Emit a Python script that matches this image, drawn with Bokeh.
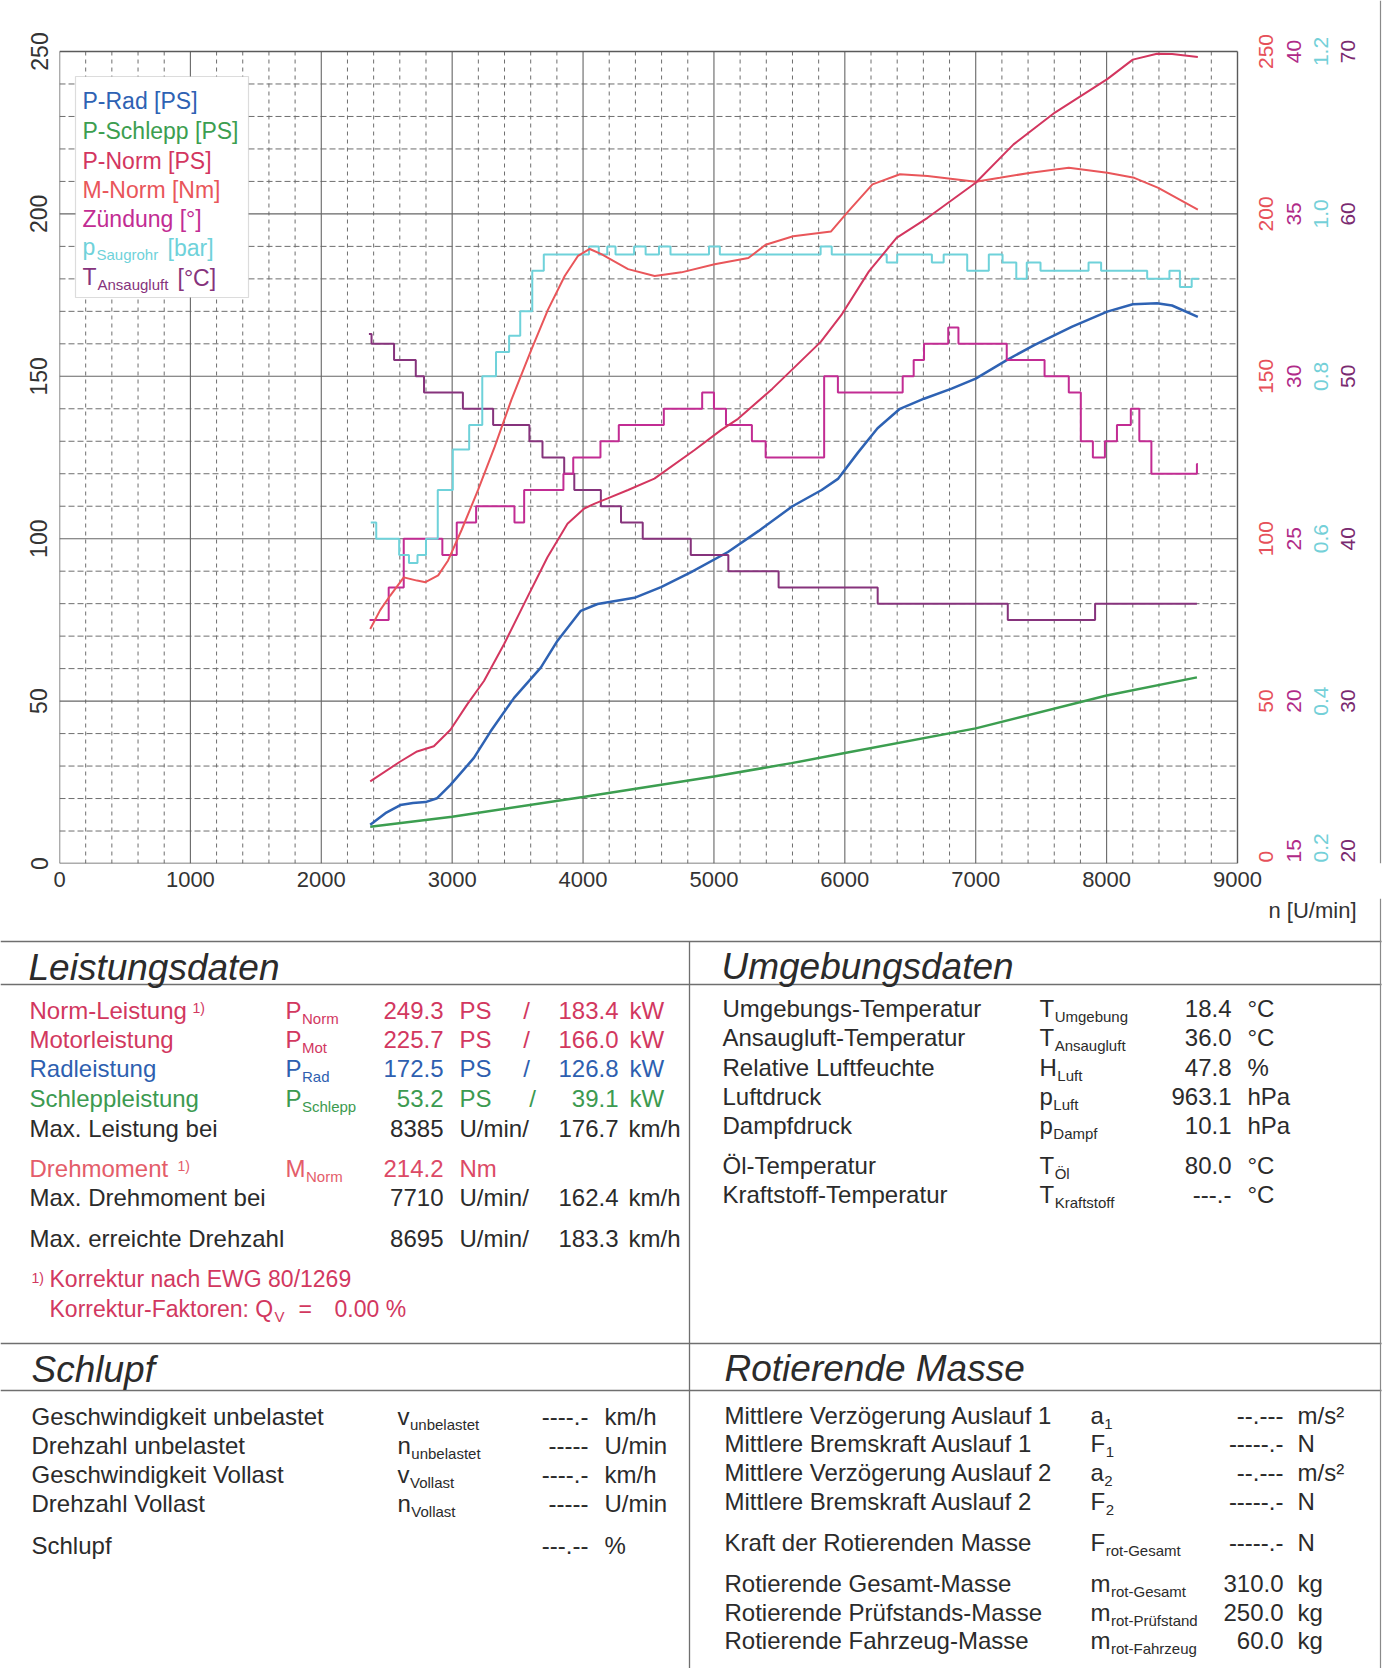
import math
from bokeh.plotting import figure
from bokeh.models import Range1d, FixedTicker, BoxAnnotation, Label
from bokeh.core.properties import value
from bokeh.layouts import column
from bokeh.embed import file_html
from bokeh.resources import INLINE

FONT = "Liberation Sans"
DARK = "#2b2b2b"

# ---------------- chart data ----------------
X_TICKS = [0, 1000, 2000, 3000, 4000, 5000, 6000, 7000, 8000, 9000]
PS_TICKS = [0, 50, 100, 150, 200, 250]
NM_TICKS = [0, 50, 100, 150, 200, 250]
ZUND_TICKS = [15, 20, 25, 30, 35, 40]
PSAUG_TICKS = [0.2, 0.4, 0.6, 0.8, 1.0, 1.2]
TANS_TICKS = [20, 30, 40, 50, 60, 70]

PRAD_RPM = [2374, 2490, 2604, 2700, 2796, 2885, 2987, 3166, 3294, 3473, 3677, 3805, 3983, 4111,
            4392, 4596, 4826, 5107, 5342, 5600, 5823, 5950, 6100, 6250, 6421, 6605, 6816, 7000,
            7237, 7447, 7737, 8005, 8200, 8385, 8500, 8697]
PRAD = [11.9, 15.5, 18.0, 18.6, 18.9, 20.1, 24.2, 32.5, 40.7, 51.0, 60.3, 68.6, 77.8, 79.9,
        81.8, 85.1, 89.7, 95.9, 102.4, 110.0, 115.0, 118.5, 126.5, 134.0, 140.0, 143.1, 146.2, 149.3,
        155.0, 159.6, 165.3, 169.9, 172.2, 172.5, 171.8, 168.3]

PSCH_RPM = [2374, 3000, 4000, 5000, 5593, 6000, 7000, 8000, 8690]
PSCH = [11.3, 14.4, 20.5, 26.8, 30.9, 34.0, 41.6, 51.7, 57.3]

PNORM_RPM = [2374, 2604, 2732, 2860, 2987, 3115, 3243, 3396, 3575, 3728, 3881, 4009, 4089, 4188,
             4344, 4545, 4852, 5056, 5184, 5447, 5816, 5974, 6184, 6395, 6632, 7000, 7289, 7605,
             8005, 8200, 8385, 8500, 8697]
PNORM = [25.3, 31.4, 34.5, 36.1, 41.2, 49.0, 56.2, 67.5, 82.0, 94.3, 104.6, 109.3, 110.8, 112.4,
         115.0, 118.5, 127.3, 133.5, 136.9, 146.2, 160.6, 168.9, 182.3, 192.6, 198.8, 209.6, 221.4, 231.2,
         241.5, 247.5, 249.3, 249.2, 248.3]

MNORM_RPM = [2374, 2450, 2527, 2630, 2732, 2796, 2893, 2969, 3071, 3198, 3326, 3453, 3606, 3733,
             3860, 3962, 4051, 4140, 4344, 4547, 4751, 5005, 5263, 5395, 5605, 5895, 6026, 6211,
             6421, 6632, 7000, 7184, 7421, 7711, 8005, 8211, 8395, 8697]
MNORM = [72.2, 78.0, 82.5, 88.1, 87.1, 86.6, 88.7, 93.3, 102.6, 115.0, 128.4, 142.8, 158.3, 170.6,
         180.9, 187.1, 189.2, 187.6, 183.0, 180.9, 182.0, 184.5, 186.4, 190.5, 193.1, 194.6, 200.8, 209.1,
         212.2, 211.7, 209.9, 211.1, 212.7, 214.2, 212.7, 211.1, 208.0, 201.3]

ZUND_RPM = [2369, 2515, 2630, 2925, 3035, 3183, 3476, 3550, 3850, 3925, 4133, 4273, 4617, 4910,
            5000, 5092, 5290, 5395, 5842, 5947, 6442, 6526, 6605, 6790, 6868, 7237, 7526, 7711,
            7803, 7895, 7987, 8079, 8185, 8250, 8342, 8690, 8697]
ZUND_DEG = [22.5, 23.5, 25.0, 24.5, 25.5, 26.0, 25.5, 26.5, 27.0, 27.5, 28.0, 28.5, 29.0, 29.5,
            29.0, 28.5, 28.0, 27.5, 30.0, 29.5, 30.0, 30.5, 31.0, 31.5, 31.0, 30.5, 30.0, 29.5,
            28.0, 27.5, 28.0, 28.5, 29.0, 28.0, 27.0, 27.3, 27.3]

PSAUG_RPM = [2378, 2420, 2595, 2670, 2735, 2800, 2890, 3005, 3130, 3230, 3335, 3435, 3520, 3612,
             3700, 4045, 4120, 4185, 4248, 4390, 4478, 4580, 4668, 4962, 5045, 5815, 5900, 6320,
             6400, 6665, 6755, 6935, 7100, 7205, 7310, 7390, 7495, 7862, 7958, 8310, 8480, 8560,
             8650, 8705]
PSAUG_BAR = [0.62, 0.60, 0.58, 0.57, 0.58, 0.60, 0.66, 0.71, 0.74, 0.80, 0.83, 0.85, 0.88, 0.93,
             0.95, 0.96, 0.95, 0.96, 0.95, 0.96, 0.95, 0.96, 0.95, 0.96, 0.95, 0.96, 0.95, 0.94,
             0.95, 0.94, 0.95, 0.93, 0.95, 0.94, 0.92, 0.94, 0.93, 0.94, 0.93, 0.92, 0.93, 0.91,
             0.92, 0.92]

TANS_RPM = [2364, 2384, 2556, 2722, 2785, 3082, 3313, 3590, 3690, 3856, 3933, 4136, 4290, 4456,
            4823, 5110, 5494, 6251, 7245, 7912, 8690]
TANS_C = [52.6, 52.0, 51.0, 50.0, 49.0, 48.0, 47.0, 46.0, 45.0, 44.0, 43.0, 42.0, 41.0, 40.0,
          39.0, 38.0, 37.0, 36.0, 35.0, 36.0, 36.0]

LEGEND = ["P-Rad [PS]", "P-Schlepp [PS]", "P-Norm [PS]", "M-Norm [Nm]", "Zündung [°]"]

C_RAD = "#2e62b3"
C_SCH = "#3c9e50"
C_PN = "#d3365f"
C_MN = "#e9565a"
C_ZD = "#c22c93"
C_PS = "#6fd2da"
C_TA = "#86337c"

# ---------------- chart figure ----------------
W = 1390
H1 = 898
FL, FR, FT, FB = 59, 1237, 51, 863   # plot-area edges in page pixels
XMAX, YMAX = 9000.0, 250.0


def px2x(px):
    return (px - FL) / (FR - FL) * XMAX


def px2y(py):
    return (FB - py) / (FB - FT) * YMAX


XEND = px2x(W)      # frame reaches the right edge of the canvas (room for the right scales)
YEND = px2y(0)      # frame reaches the top of the canvas
K = YEND / YMAX

p = figure(width=W, height=H1, x_range=Range1d(0, XEND), y_range=Range1d(0, YEND),
           output_backend="svg", toolbar_location=None,
           min_border_left=FL, min_border_right=0, min_border_top=0,
           min_border_bottom=H1 - FB,
           background_fill_color="white", border_fill_color="white")
p.frame_align = False
p.outline_line_color = None
p.xgrid.visible = False
p.ygrid.visible = False

p.xaxis.ticker = FixedTicker(ticks=X_TICKS)
p.yaxis.ticker = FixedTicker(ticks=PS_TICKS)
for ax in (p.xaxis[0], p.yaxis[0]):
    ax.axis_line_color = None
    ax.major_tick_line_color = None
    ax.minor_tick_line_color = None
    ax.major_label_text_font = FONT
    ax.major_label_text_color = "#333333"
p.xaxis.major_tick_out = 0
p.xaxis.major_label_text_font_size = "22px"
p.xaxis.major_label_standoff = 8
p.yaxis.major_label_text_font_size = "23px"
p.yaxis.major_label_orientation = "vertical"
p.yaxis.major_label_standoff = 6

p.extra_y_ranges = {"nm": Range1d(0, 250 * K), "zd": Range1d(15, 15 + 25 * K),
                    "ps": Range1d(0.2, 0.2 + 1.0 * K), "ta": Range1d(20, 20 + 50 * K)}

# grid drawn only over the plot area
minor_x = [v for v in range(200, 9000, 200) if v % 1000]
major_x = [v for v in X_TICKS if 0 < v < 9000]
minor_y = [v for v in range(10, 250, 10) if v % 50]
major_y = [v for v in PS_TICKS if 0 < v < 250]
p.segment(x0=minor_x, y0=[0] * len(minor_x), x1=minor_x, y1=[YMAX] * len(minor_x),
          line_color="#6e6e6e", line_width=1, line_dash="4 4")
p.segment(x0=[0] * len(minor_y), y0=minor_y, x1=[XMAX] * len(minor_y), y1=minor_y,
          line_color="#6e6e6e", line_width=1, line_dash="6 3")
p.segment(x0=major_x, y0=[0] * len(major_x), x1=major_x, y1=[YMAX] * len(major_x),
          line_color="#666666", line_width=1.1)
p.segment(x0=[0] * len(major_y), y0=major_y, x1=[XMAX] * len(major_y), y1=major_y,
          line_color="#666666", line_width=1.1)
p.segment(x0=[0, 0, 0, XMAX], y0=[0, YMAX, 0, 0], x1=[XMAX, XMAX, 0, XMAX], y1=[0, YMAX, YMAX, YMAX],
          line_color="#5a5a5a", line_width=1.4)
# page border line at right
p.segment(x0=[px2x(1380)], y0=[0], x1=[px2x(1380)], y1=[YEND], line_color="#8a8a8a", line_width=1.2)

# curves
p.line(PSCH_RPM, PSCH, line_color=C_SCH, line_width=2.5)
p.line(PRAD_RPM, PRAD, line_color=C_RAD, line_width=2.5)
p.step(TANS_RPM, TANS_C, mode="after", y_range_name="ta", line_color=C_TA, line_width=2)
p.step(ZUND_RPM, ZUND_DEG, mode="after", y_range_name="zd", line_color=C_ZD, line_width=2)
p.step(PSAUG_RPM, PSAUG_BAR, mode="after", y_range_name="ps", line_color=C_PS, line_width=2)
p.line(MNORM_RPM, MNORM, y_range_name="nm", line_color=C_MN, line_width=2)
p.line(PNORM_RPM, PNORM, line_color=C_PN, line_width=2)

# right-hand scales (rotated labels, reading upwards)
RFS = 21
right_specs = [(NM_TICKS, 0, 250, "%d", "#e6505a", 1265),
               (ZUND_TICKS, 15, 25, "%d", "#b02a88", 1293),
               (PSAUG_TICKS, 0.2, 1.0, "%.1f", "#74d0d8", 1320),
               (TANS_TICKS, 20, 50, "%d", "#7a2a70", 1347)]
for ticks, base, span, fmt, col, xpx in right_specs:
    labs = [fmt % v for v in ticks]
    ys = []
    for v, lab in zip(ticks, labs):
        ypx = FB - (v - base) / span * (FB - FT)
        half = sum(0.278 if ch == "." else 0.556 for ch in lab) * RFS / 2
        ys.append(px2y(min(ypx, FB - 1 - half)))
    p.text(x=[px2x(xpx)] * len(ticks), y=ys, text=labs, angle=math.pi / 2,
           text_align="center", text_baseline="middle", text_font=value(FONT),
           text_font_size=f"{RFS}px", text_color=col)

# legend (text only, as in the reference)
p.add_layout(BoxAnnotation(left=px2x(75), right=px2x(248), top=px2y(76), bottom=px2y(297),
                           fill_color="white", fill_alpha=1.0, line_color="#8c8c8c", line_width=1.2))
leg_cols = [C_RAD, C_SCH, C_PN, C_MN, C_ZD]
leg_y = [100, 130, 160, 189, 218]
for txt, col, yy in zip(LEGEND, leg_cols, leg_y):
    p.add_layout(Label(x=px2x(82), y=px2y(yy), text=txt, text_font=FONT, text_font_size="23px",
                       text_color=col, text_baseline="middle"))
p.add_layout(Label(x=px2x(82), y=px2y(246), text="p", text_font=FONT, text_font_size="23px",
                   text_color=C_PS, text_baseline="middle"))
p.add_layout(Label(x=px2x(96), y=px2y(254), text="Saugrohr", text_font=FONT, text_font_size="15px",
                   text_color=C_PS, text_baseline="middle"))
p.add_layout(Label(x=px2x(167), y=px2y(247), text="[bar]", text_font=FONT, text_font_size="23px",
                   text_color=C_PS, text_baseline="middle"))
p.add_layout(Label(x=px2x(82), y=px2y(276), text="T", text_font=FONT, text_font_size="23px",
                   text_color=C_TA, text_baseline="middle"))
p.add_layout(Label(x=px2x(97), y=px2y(284), text="Ansaugluft", text_font=FONT, text_font_size="15px",
                   text_color=C_TA, text_baseline="middle"))
p.add_layout(Label(x=px2x(177), y=px2y(277), text="[°C]", text_font=FONT, text_font_size="23px",
                   text_color=C_TA, text_baseline="middle"))

# ---------------- tables figure ----------------
Y0 = H1
H2 = 1668 - H1
t = figure(width=W, height=H2, x_range=Range1d(0, W), y_range=Range1d(Y0 + H2, Y0),
           output_backend="svg", toolbar_location=None,
           min_border_left=0, min_border_right=0, min_border_top=0, min_border_bottom=0,
           background_fill_color="white", border_fill_color="white")
t.frame_align = False
t.axis.visible = False
t.grid.visible = False
t.outline_line_color = None

LC = "#6f6f6f"
t.segment(x0=[0, 0, 0, 0], y0=[941, 984, 1343, 1390], x1=[1381, 1381, 1381, 1381],
          y1=[941, 984, 1343, 1390], line_color=LC, line_width=1.5)
t.segment(x0=[689], y0=[941], x1=[689], y1=[1671], line_color=LC, line_width=1.3)
t.segment(x0=[1380], y0=[Y0], x1=[1380], y1=[1671], line_color="#8a8a8a", line_width=1.2)

AW = {"P": 0.667, "T": 0.611, "H": 0.722, "p": 0.556, "M": 0.833, "v": 0.5, "n": 0.556,
      "a": 0.556, "F": 0.611, "m": 0.833, "Q": 0.778}
FS = 24


def T(txt, x, y, size=FS, color=DARK, align="left", style="normal"):
    t.add_layout(Label(x=x, y=y, text=txt, text_font=FONT, text_font_size=f"{size}px",
                       text_color=color, text_align=align, text_baseline="middle",
                       text_font_style=style))


def SYM(main, sub, x, y, color=DARK):
    T(main, x, y, color=color)
    T(sub, x + AW[main] * FS + 0.5, y + 8, size=15, color=color)


T("n [U/min]", 1268, 910, size=22, color="#333333")

# headers
T("Leistungsdaten", 28, 967, size=37, style="italic")
T("Umgebungsdaten", 721, 966, size=37, style="italic")
T("Schlupf", 31, 1369, size=37, style="italic")
T("Rotierende Masse", 724, 1368, size=37, style="italic")

# Leistungsdaten
CR = "#d2385f"
BL = "#2e5fb0"
GR = "#3c9a50"
SA = "#e45d6a"
rows_pw = [("Norm-Leistung", "Norm", "249.3", "183.4", CR, 1010),
           ("Motorleistung", "Mot", "225.7", "166.0", CR, 1039),
           ("Radleistung", "Rad", "172.5", "126.8", BL, 1068),
           ("Schleppleistung", "Schlepp", "53.2", "39.1", GR, 1098)]
for lab, sub, v1, v2, col, yy in rows_pw:
    T(lab, 29, yy, color=col)
    SYM("P", sub, 285, yy, color=col)
    T(v1, 443, yy, color=col, align="right")
    T("PS", 459, yy, color=col)
    T("/", 532 if sub == "Schlepp" else 526, yy, color=col, align="center")
    T(v2, 618, yy, color=col, align="right")
    T("kW", 629, yy, color=col)
T("1)", 192, 1007, size=14, color=CR)

T("Max. Leistung bei", 29, 1128)
T("8385", 443, 1128, align="right")
T("U/min/", 459, 1128)
T("176.7", 618, 1128, align="right")
T("km/h", 628, 1128)

T("Drehmoment", 29, 1168, color=SA)
T("1)", 177, 1165, size=14, color=SA)
SYM("M", "Norm", 285, 1168, color=SA)
T("214.2", 443, 1168, color="#dc4a66", align="right")
T("Nm", 459, 1168, color="#dc4a66")

T("Max. Drehmoment bei", 29, 1197)
T("7710", 443, 1197, align="right")
T("U/min/", 459, 1197)
T("162.4", 618, 1197, align="right")
T("km/h", 628, 1197)

T("Max. erreichte Drehzahl", 29, 1238)
T("8695", 443, 1238, align="right")
T("U/min/", 459, 1238)
T("183.3", 618, 1238, align="right")
T("km/h", 628, 1238)

T("1)", 31, 1277, size=14, color=CR)
T("Korrektur nach EWG 80/1269", 49, 1278, color=CR, size=23)
T("Korrektur-Faktoren: Q", 49, 1308, color=CR, size=23)
T("V", 274, 1316, size=15, color=CR)
T("=", 298, 1308, color=CR, size=23)
T("0.00 %", 334, 1308, color=CR, size=23)

# Umgebungsdaten
env = [("Umgebungs-Temperatur", "T", "Umgebung", "18.4", "°C", 1008),
       ("Ansaugluft-Temperatur", "T", "Ansaugluft", "36.0", "°C", 1037),
       ("Relative Luftfeuchte", "H", "Luft", "47.8", "%", 1067),
       ("Luftdruck", "p", "Luft", "963.1", "hPa", 1096),
       ("Dampfdruck", "p", "Dampf", "10.1", "hPa", 1125),
       ("Öl-Temperatur", "T", "Öl", "80.0", "°C", 1165),
       ("Kraftstoff-Temperatur", "T", "Kraftstoff", "---.-", "°C", 1194)]
for lab, m, sub, val, unit, yy in env:
    T(lab, 722, yy)
    SYM(m, sub, 1039, yy)
    T(val, 1231, yy, align="right")
    T(unit, 1247, yy)

# Schlupf
slip = [("Geschwindigkeit unbelastet", "v", "unbelastet", "----.-", "km/h", 1416),
        ("Drehzahl unbelastet", "n", "unbelastet", "-----", "U/min", 1445),
        ("Geschwindigkeit Vollast", "v", "Vollast", "----.-", "km/h", 1474),
        ("Drehzahl Vollast", "n", "Vollast", "-----", "U/min", 1503),
        ("Schlupf", None, None, "---.--", "%", 1545)]
for lab, m, sub, val, unit, yy in slip:
    T(lab, 31, yy)
    if m:
        SYM(m, sub, 397, yy)
    T(val, 588, yy, align="right")
    T(unit, 604, yy)

# Rotierende Masse
rot = [("Mittlere Verzögerung Auslauf 1", "a", "1", "--.---", "m/s²", 1415),
       ("Mittlere Bremskraft Auslauf 1", "F", "1", "-----.-", "N", 1443),
       ("Mittlere Verzögerung Auslauf 2", "a", "2", "--.---", "m/s²", 1472),
       ("Mittlere Bremskraft Auslauf 2", "F", "2", "-----.-", "N", 1501),
       ("Kraft der Rotierenden Masse", "F", "rot-Gesamt", "-----.-", "N", 1542),
       ("Rotierende Gesamt-Masse", "m", "rot-Gesamt", "310.0", "kg", 1583),
       ("Rotierende Prüfstands-Masse", "m", "rot-Prüfstand", "250.0", "kg", 1612),
       ("Rotierende Fahrzeug-Masse", "m", "rot-Fahrzeug", "60.0", "kg", 1640)]
for lab, m, sub, val, unit, yy in rot:
    T(lab, 724, yy)
    SYM(m, sub, 1090, yy)
    T(val, 1283, yy, align="right")
    T(unit, 1297, yy)

page = column(p, t, spacing=0)
open("out.html", "w").write(file_html(page, INLINE))
